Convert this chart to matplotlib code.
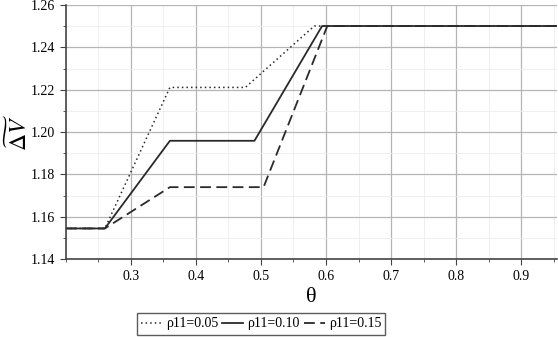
import matplotlib.pyplot as plt
from matplotlib.ticker import MultipleLocator

plt.rcParams['font.family'] = ['Liberation Serif', 'DejaVu Serif']
plt.rcParams['mathtext.fontset'] = 'stix'

# 读图得到的数据 (theta, ΔV)
theta_005 = [0.20, 0.26, 0.36, 0.476, 0.582, 0.955]
dv_005 = [1.1545, 1.1545, 1.2211, 1.2211, 1.2501, 1.2501]

theta_010 = [0.20, 0.26, 0.36, 0.49, 0.594, 0.955]
dv_010 = [1.1545, 1.1545, 1.1959, 1.1959, 1.2501, 1.2501]

theta_015 = [0.20, 0.26, 0.36, 0.504, 0.602, 0.955]
dv_015 = [1.1545, 1.1545, 1.1740, 1.1740, 1.2501, 1.2501]

labels = ['ρ11=0.05', 'ρ11=0.10', 'ρ11=0.15']
xticks = [0.3, 0.4, 0.5, 0.6, 0.7, 0.8, 0.9]
yticks = [1.14, 1.16, 1.18, 1.20, 1.22, 1.24, 1.26]

fig = plt.figure(figsize=(5.58, 3.37), dpi=100)
ax = fig.add_axes([0.118, 0.231, 0.880, 0.754])

c = '#2a2a2a'
ax.plot(theta_005, dv_005, color=c, lw=1.1, linestyle=(0, (1, 2)), label=labels[0])
ax.plot(theta_010, dv_010, color=c, lw=1.3, linestyle='-', label=labels[1])
ax.plot(theta_015, dv_015, color=c, lw=1.3, linestyle=(0, (6, 3)), label=labels[2])

ax.set_xlim(0.2, 0.955)
ax.set_ylim(1.14, 1.26)
ax.set_xticks(xticks)
ax.set_yticks(yticks)
ax.set_yticklabels(['%.2f' % v for v in yticks])
ax.xaxis.set_minor_locator(MultipleLocator(0.05))
ax.yaxis.set_minor_locator(MultipleLocator(0.01))
ax.tick_params(which='both', direction='out', labelsize=10, color='#444')
ax.tick_params(which='major', length=4)
ax.tick_params(which='minor', length=2.5)

ax.grid(True, which='major', color='#b5b5b5', lw=0.9)
ax.grid(True, which='minor', color='#ececec', lw=0.6)
ax.set_axisbelow(True)

for s in ['top', 'right']:
    ax.spines[s].set_visible(False)
for s in ['left', 'bottom']:
    ax.spines[s].set_color('#444')
    ax.spines[s].set_linewidth(1.2)

ax.set_xlabel('θ', fontsize=16, labelpad=4)
ax.set_ylabel(r'$\widetilde{\Delta V}$', fontsize=17)
ax.yaxis.set_label_coords(-0.068, 0.5)

leg = fig.legend(loc='lower center', bbox_to_anchor=(0.468, 0.003), ncol=3,
                 fontsize=10, frameon=True, fancybox=False, handlelength=1.5,
                 handletextpad=0.3, columnspacing=0.3, borderpad=0.3,
                 borderaxespad=0.1)
leg.get_frame().set_edgecolor('#333')
leg.get_frame().set_linewidth(1.0)

fig.savefig('out.png', dpi=100)
